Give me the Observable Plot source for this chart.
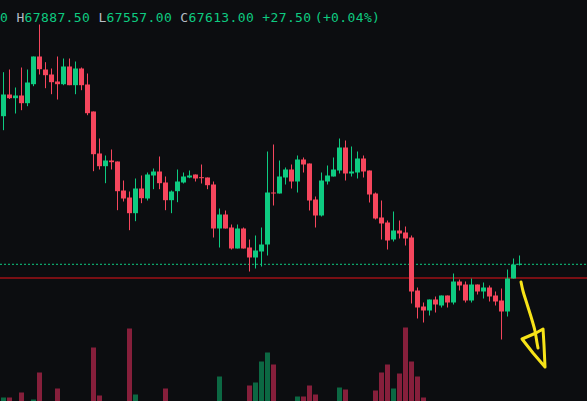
<!DOCTYPE html>
<html>
<head>
<meta charset="utf-8">
<script src="https://cdn.jsdelivr.net/npm/d3@7"></script>
<script src="https://cdn.jsdelivr.net/npm/@observablehq/plot@0.6"></script>
<style>
  html, body { margin: 0; padding: 0; background: #0c0d10; }
  #wrap { position: relative; width: 587px; height: 401px; overflow: hidden; background: #0c0d10; }
  #wrap > svg { position: absolute; left: 0; top: 0; }
  #hdr { position: absolute; left: -65.6px; top: 10px; font: 13px "DejaVu Sans Mono", monospace; line-height: 15px;
         letter-spacing: 0.37px; white-space: pre; color: #0ecb81; }
  #hdr .lab { color: #b7bdc6; }
</style>
</head>
<body>
<div id="wrap"><div id="hdr"></div></div>
<script>
// ---- data ----
const open = [72484,73200,73078,73167,72913,73540,74454,74025,73860,73629,
  73540,74124,73507,74058,73530,72639,71253,70834,71022,70989,
  70032,69801,69283,70098,69768,70527,70659,70296,69712,70009,
  70296,70461,70560,70471,70461,70230,68778,69240,68811,68118,
  68778,68151,67821,68019,68250,69966,69933,70461,70725,70329,
  71055,70923,69735,69207,70329,70494,70692,71451,70593,70626,
  71088,70692,69933,69141,68976,68415,68712,68646,68481,66732,
  66204,66072,66435,66237,66567,66336,67029,66930,66402,66930,
  66699,66831,66567,66402,66039,67128,67585.5];
const high = [73936,74025,73431,74091,74025,74454,75510,74266,74058,74454,
  74388,74388,74289,74091,73893,72639,71748,71187,71385,70989,
  70362,69999,70428,70527,70626,70758,71154,70494,70032,70725,
  70626,70692,70560,70890,70461,70329,69438,69372,68910,68910,
  68811,68415,68547,68811,71319,71550,71022,70791,70890,71187,
  71121,70923,69834,70626,70857,71121,71748,71682,71484,71319,
  71187,70692,69966,69702,69042,69339,69042,68844,68547,66831,
  66336,66435,66534,66567,66567,67293,67095,67029,67128,66930,
  66996,66897,66699,66798,67425,67788,67887.5];
const low = [72022,73052,72573,72682,72814,73474,73860,73408,73210,73035,
  73507,73507,73210,73342,72517,70669,70725,70273,70725,69382,
  69669,68722,69019,69613,69702,70075,70075,69382,69283,69646,
  70263,70438,70329,70263,70075,68481,68151,68778,68085,68118,
  68118,67359,67458,67524,67887,69537,69933,70230,70098,69966,
  70626,69372,68811,69174,70230,70494,70593,70362,70494,70428,
  70461,69636,69075,68415,68085,68349,68448,68217,66303,65808,
  65676,65907,66006,66171,66171,66270,66732,66336,66336,66600,
  66468,66369,66237,65115,65874,67128,67557];
const close = [73200,73078,73167,72913,73596,74454,74035,73837,73606,73540,
  74124,73507,74058,73507,72583,71230,70834,71022,70966,70009,
  69768,69283,70098,69778,70560,70659,70273,69712,69999,70329,
  70494,70527,70428,70438,70207,68778,69240,68778,68118,68778,
  68118,67821,68052,68250,69966,69933,70494,70725,70329,71055,
  70890,69702,69207,70362,70527,70725,71451,70593,70659,71088,
  70659,69900,69108,68943,68382,68712,68613,68448,66699,66171,
  66072,66435,66270,66567,66336,67029,66897,66402,66930,66699,
  66831,66534,66369,66039,67128,67590,67613];
const volume = [120,120,60,170,70,100,370,80,60,210,
  50,70,40,60,80,620,140,70,50,80,
  60,810,150,60,50,40,70,210,50,60,
  40,30,50,40,60,80,330,70,60,50,
  40,240,270,480,570,450,80,60,70,130,
  130,240,150,80,60,50,220,200,60,70,
  50,80,190,370,450,210,360,820,480,330,
  120,70,50,40,50,80,40,60,70,40,
  30,50,40,80,70,60,30];
const lastPrice = 67613;      // dotted last-price line
const levelPrice = 67161;     // dark red horizontal level
const headerLabels = ["O", "H", "L", "C"];
const headerValues = ["67585.50", "67887.50", "67557.00", "67613.00"];
const headerChange = ["+27.50", "(+0.04%)"];
// hand-drawn yellow arrow (candle index, price)
const arrowShaft = [[86.25,67029],[86.58,66732],[87.25,66303],[88.08,65775],[88.58,65412],[88.92,65016],[89.08,64851]];
const arrowHead = [[86.42,65148],[88.75,65346],[89.92,65478],[90.08,64950],[90.25,64224],[88.25,64686],[86.42,65148]];

// ---- styling ----
const UP = "#0ecb81", DOWN = "#f6465d";
const VUP = "#0c6843", VDOWN = "#861f3b";

const candles = open.map((o, i) => ({i, o, h: high[i], l: low[i], c: close[i], v: volume[i]}));
const isUp = d => d.c >= d.o;
const ups = candles.filter(isUp);
const downs = candles.filter(d => !isUp(d));

const xDomain = [-0.5, 97.33];

const volPlot = Plot.plot({
  width: 587, height: 401, margin: 0,
  style: {background: "transparent"},
  x: {domain: xDomain, axis: null},
  y: {domain: [0, 4100], range: [409.5, -0.5], axis: null},
  marks: [
    Plot.ruleX(ups, {x: "i", y1: 0, y2: "v", strokeWidth: 5, stroke: VUP}),
    Plot.ruleX(downs, {x: "i", y1: 0, y2: "v", strokeWidth: 5, stroke: VDOWN})
  ]
});

const pricePlot = Plot.plot({
  width: 587, height: 401, margin: 0,
  style: {background: "transparent"},
  x: {domain: xDomain, axis: null},
  y: {domain: [63085.5, 76318.5], axis: null},
  marks: [
    Plot.ruleY([levelPrice], {stroke: "#7a0f14", strokeWidth: 2}),
    Plot.ruleY([lastPrice], {stroke: UP, strokeWidth: 1, strokeDasharray: "2,2"}),
    Plot.ruleX(ups, {x: "i", y1: "l", y2: "h", strokeWidth: 1, stroke: UP, strokeOpacity: 1}),
    Plot.ruleX(downs, {x: "i", y1: "l", y2: "h", strokeWidth: 1, stroke: DOWN, strokeOpacity: 1}),
    Plot.ruleX(ups, {x: "i", y1: "o", y2: "c", strokeWidth: 5, stroke: UP}),
    Plot.ruleX(downs, {x: "i", y1: "o", y2: "c", strokeWidth: 5, stroke: DOWN}),
    Plot.line(arrowShaft, {x: d => d[0], y: d => d[1], stroke: "#f7e318", strokeWidth: 3, curve: "catmull-rom", strokeLinecap: "round", strokeLinejoin: "round"}),
    Plot.line(arrowHead, {x: d => d[0], y: d => d[1], stroke: "#f7e318", strokeWidth: 3, curve: "linear", strokeLinecap: "round", strokeLinejoin: "round"})
  ]
});

const wrap = document.getElementById("wrap");
wrap.insertBefore(pricePlot, wrap.firstChild);
wrap.insertBefore(volPlot, wrap.firstChild);

const hdr = document.getElementById("hdr");
let html = "";
headerLabels.forEach((lab, k) => {
  html += `<span class="lab">${lab}</span>${headerValues[k]} `;
});
html += `${headerChange[0]} <span style="margin-left:-5px">${headerChange[1]}</span>`;
hdr.innerHTML = html;
</script>
</body>
</html>
